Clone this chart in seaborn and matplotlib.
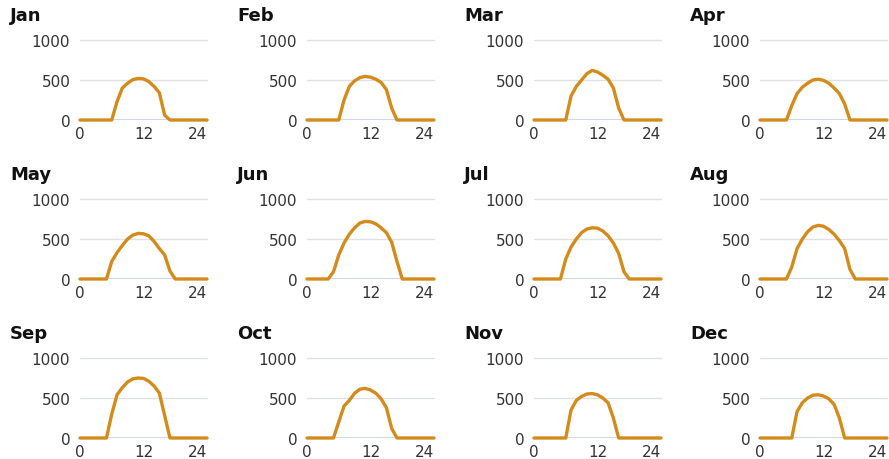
import matplotlib
matplotlib.use("Agg")
import matplotlib.pyplot as plt
import seaborn as sns
import pandas as pd

sns.set_theme(style="white")
plt.rcParams['font.family'] = ['DejaVu Sans']

months = ["Jan", "Feb", "Mar", "Apr", "May", "Jun",
          "Jul", "Aug", "Sep", "Oct", "Nov", "Dec"]
hours = list(range(25))

jan = [0,0,0,0,0,0,0,230,400,460,505,520,515,480,420,340,60,0,0,0,0,0,0,0,0]
feb = [0,0,0,0,0,0,0,250,420,490,530,545,535,510,470,380,150,0,0,0,0,0,0,0,0]
mar = [0,0,0,0,0,0,0,300,420,500,580,620,600,560,510,400,150,0,0,0,0,0,0,0,0]
apr = [0,0,0,0,0,0,180,330,410,460,500,510,495,460,400,330,200,0,0,0,0,0,0,0,0]
may = [0,0,0,0,0,0,220,330,420,500,550,570,565,540,470,380,300,100,0,0,0,0,0,0,0]
jun = [0,0,0,0,0,90,300,450,560,640,700,720,715,690,640,580,460,220,0,0,0,0,0,0,0]
jul = [0,0,0,0,0,0,250,400,500,580,625,640,635,600,540,450,320,90,0,0,0,0,0,0,0]
aug = [0,0,0,0,0,0,150,380,500,590,650,670,660,620,560,480,380,120,0,0,0,0,0,0,0]
sep = [0,0,0,0,0,0,300,540,630,700,740,750,745,710,650,560,280,0,0,0,0,0,0,0,0]
oct_ = [0,0,0,0,0,0,200,400,470,560,610,620,600,560,490,380,120,0,0,0,0,0,0,0,0]
nov = [0,0,0,0,0,0,0,350,470,520,550,555,540,500,440,250,0,0,0,0,0,0,0,0,0]
dec = [0,0,0,0,0,0,0,330,440,500,535,540,525,490,420,250,0,0,0,0,0,0,0,0,0]

series = [jan, feb, mar, apr, may, jun, jul, aug, sep, oct_, nov, dec]
yticks = [0, 500, 1000]
xticks = [0, 12, 24]

W, H = 889, 460
fig = plt.figure(figsize=(W/100, H/100), dpi=100)

col_left = [80, 307, 534, 760]
row_bottom = [121, 280, 439]
aw, ah = 127, 80
line_color = "#D38B1C"

for i, (m, vals) in enumerate(zip(months, series)):
    r, c = divmod(i, 4)
    left = col_left[c] / W
    bottom = 1 - row_bottom[r] / H
    ax = fig.add_axes([left, bottom, aw / W, ah / H])
    df = pd.DataFrame({"hour": hours, "value": vals})
    sns.lineplot(data=df, x="hour", y="value", ax=ax, color=line_color,
                 linewidth=2.4, clip_on=False, zorder=3)
    ax.set_xlim(0, 24)
    ax.set_ylim(0, 1000)
    ax.set_yticks(yticks)
    ax.set_xticks(xticks)
    xl = ax.set_xticklabels([str(t) for t in xticks])
    xl[-1].set_ha("right")
    ax.set_yticklabels([str(t) for t in yticks])
    for y in [500, 1000]:
        ax.axhline(y, color="#dfe1e5", linewidth=1.0, zorder=0, clip_on=False)
    ax.axhline(0, color="#c5d1e3", linewidth=1.2, zorder=1)
    for s in ax.spines.values():
        s.set_visible(False)
    ax.tick_params(axis="both", length=0, labelsize=11, colors="#333333")
    ax.tick_params(axis="y", pad=7)
    ax.tick_params(axis="x", pad=4)
    ax.set_xlabel("")
    ax.set_ylabel("")
    ax.grid(False)
    tx = (col_left[c] - 70) / W
    ty = 1 - (row_bottom[r] - 105) / H
    fig.text(tx, ty, m, fontsize=13, fontweight="bold", color="#111111",
             ha="left", va="center")

fig.savefig("out.png", dpi=100)
